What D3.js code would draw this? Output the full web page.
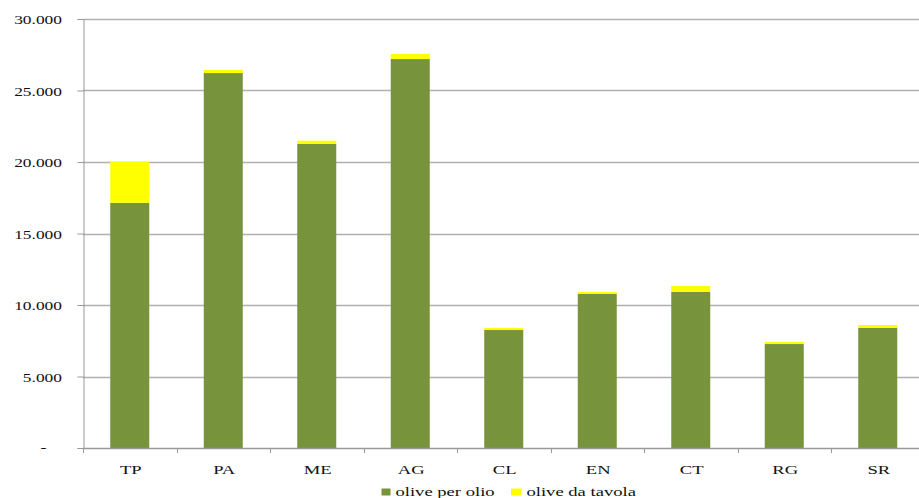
<!DOCTYPE html>
<html>
<head>
<meta charset="utf-8">
<script src="https://cdn.jsdelivr.net/npm/d3@7"></script>
<style>
  html, body { margin: 0; padding: 0; background: #fff; }
  svg { display: block; }
</style>
</head>
<body>
<svg id="chart" width="919" height="498"></svg>
<script>
// Provinces of Sicily
const categories = ["TP", "PA", "ME", "AG", "CL", "EN", "CT", "RG", "SR"];
// Olives for oil production
const oliveOlio = [17150, 26220, 21280, 27200, 8250, 10770, 10910, 7270, 8410];
// Table olives
const oliveTavola = [2850, 210, 210, 350, 140, 140, 420, 140, 190];
const seriesNames = ["olive per olio", "olive da tavola"];
const yTicks = [0, 5000, 10000, 15000, 20000, 25000, 30000];

const colors = { olio: "#77933C", tavola: "#FFFF00" };
const FONT = "'Liberation Serif', 'Times New Roman', serif";

const svg = d3.select("#chart");
const plotLeft = 83, plotBottom = 448, plotTop = 19, band = 93.5;

const x = d3.scaleBand().domain(categories).range([plotLeft, plotLeft + band * categories.length]).padding(0);
const y = d3.scaleLinear().domain([0, 30000]).range([plotBottom, plotTop]);

const fmt = v => v === 0 ? "-" : d3.format(",")(v).replace(/,/g, ".");

// horizontal gridlines
svg.append("g")
  .selectAll("line")
  .data(yTicks.filter(d => d > 0))
  .join("line")
  .attr("x1", plotLeft).attr("x2", 919)
  .attr("y1", d => Math.round(y(d)) + 0.5).attr("y2", d => Math.round(y(d)) + 0.5)
  .attr("stroke", "#b0b0b0").attr("stroke-width", 1.3);

// y axis
const yAxis = svg.append("g")
  .attr("transform", `translate(${plotLeft + 0.5},0)`)
  .call(d3.axisLeft(y).tickValues(yTicks).tickSize(6).tickFormat(""));
yAxis.select(".domain").attr("stroke", "#999");
yAxis.selectAll(".tick line").attr("stroke", "#999");

// wide text helper: glyphs are stretched horizontally
function label(g, txt, px, py, anchor, sx, size) {
  g.append("text")
    .attr("transform", `translate(${px},${py}) scale(${sx},1)`)
    .attr("text-anchor", anchor)
    .attr("font-family", FONT)
    .attr("font-size", size)
    .attr("fill", "#111")
    .text(txt);
}

const yLabels = svg.append("g");
yTicks.forEach(t => {
  if (t === 0) label(yLabels, fmt(t), 43.5, y(t) + 4, "middle", 1.5, 12);
  else label(yLabels, fmt(t), 62, y(t) + 5, "end", 1.45, 12);
});

// stacked bars
const stackData = categories.map((c, i) => ({ cat: c, olio: oliveOlio[i], tavola: oliveTavola[i] }));
const stack = d3.stack().keys(["olio", "tavola"])(stackData);
const barW = 39;

svg.append("g")
  .selectAll("g")
  .data(stack)
  .join("g")
  .attr("fill", d => colors[d.key])
  .selectAll("rect")
  .data(d => d)
  .join("rect")
  .attr("x", d => x(d.data.cat) + x.bandwidth() / 2 - barW / 2)
  .attr("width", barW)
  .attr("y", d => y(d[1]))
  .attr("height", d => y(d[0]) - y(d[1]));

// x axis
const xAxisG = svg.append("g");
xAxisG.append("line")
  .attr("x1", plotLeft).attr("x2", 919)
  .attr("y1", plotBottom + 0.5).attr("y2", plotBottom + 0.5)
  .attr("stroke", "#999").attr("stroke-width", 1.3);
xAxisG.selectAll("line.tk")
  .data(categories)
  .join("line")
  .attr("class", "tk")
  .attr("x1", d => Math.round(x(d)) + 0.5).attr("x2", d => Math.round(x(d)) + 0.5)
  .attr("y1", plotBottom).attr("y2", plotBottom + 5)
  .attr("stroke", "#999");
categories.forEach(c => label(xAxisG, c, x(c) + x.bandwidth() / 2 + 1, 473.5, "middle", 1.55, 12));

// legend
const legend = svg.append("g");
legend.append("rect").attr("x", 381.5).attr("y", 488.5).attr("width", 9).attr("height", 7).attr("fill", colors.olio);
label(legend, seriesNames[0], 395.5, 495.5, "start", 1.55, 12);
legend.append("rect").attr("x", 511).attr("y", 488.5).attr("width", 10.5).attr("height", 7).attr("fill", colors.tavola);
label(legend, seriesNames[1], 526.5, 495.5, "start", 1.55, 12);
</script>
</body>
</html>
